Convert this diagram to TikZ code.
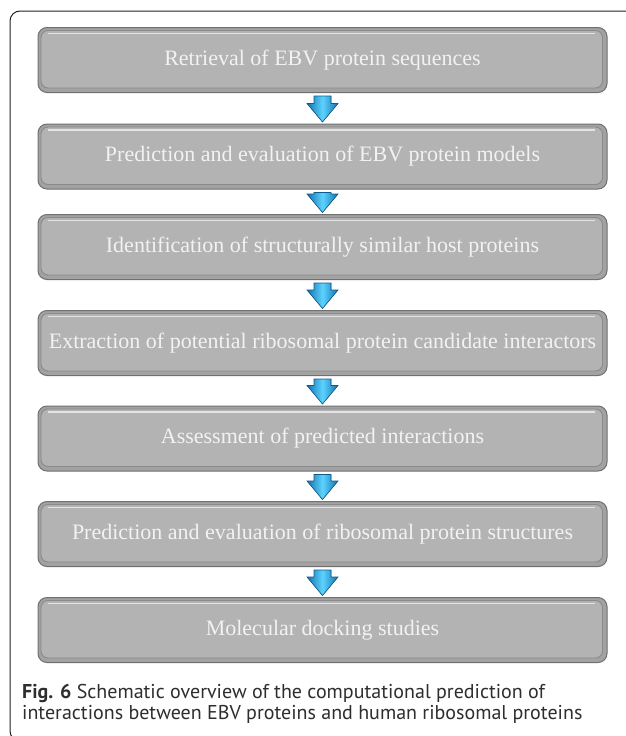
\documentclass[tikz,border=0pt]{standalone}
\usepackage{fontspec}
\setmainfont{Liberation Serif}
\newfontfamily\capfont{PT Sans}
\usetikzlibrary{calc}
\definecolor{boxedge}{HTML}{707070}
\definecolor{boxrim}{HTML}{A2A2A2}
\definecolor{boxface}{HTML}{B3B3B3}
\definecolor{bevdark}{HTML}{8A8A8A}
\definecolor{boxtext}{HTML}{F2F2F2}
\definecolor{arrdark}{HTML}{1273AE}
\definecolor{arrlight}{HTML}{5CD2FF}
\definecolor{arredge}{HTML}{0F5A88}
\definecolor{framecol}{HTML}{222222}
\definecolor{captext}{HTML}{2E2E2E}
\tikzset{
  procbox/.style={draw=boxedge, line width=1pt, fill=boxrim, rounded corners=9pt,
    minimum width=569pt, minimum height=65pt, inner sep=0pt,
    text=boxtext, font=\fontsize{22}{25}\selectfont,
    path picture={
      \draw[rounded corners=7pt, draw=bevdark, line width=0.9pt, fill=boxface]
        ([xshift=3pt,yshift=-3pt]path picture bounding box.north west) rectangle
        ([xshift=-4.5pt,yshift=4.5pt]path picture bounding box.south east);
      \draw[white!65!boxface, line width=1.4pt, rounded corners=0pt]
        ([xshift=10pt,yshift=-6pt]path picture bounding box.north west) --
        ([xshift=-12pt,yshift=-6pt]path picture bounding box.north east);
    }},
  fatarrow/.style={draw=arredge, line width=0.6pt, line join=miter,
    left color=arrdark, right color=arrdark, middle color=arrlight},
  capline/.style={anchor=base west, inner sep=0pt, text=captext,
    font=\capfont\fontsize{20}{22}\selectfont}
}
\begin{document}
\begin{tikzpicture}[x=1pt,y=-1pt]
\useasboundingbox (0,0) rectangle (625,736);
\fill[white] (0,0) rectangle (625,736);
\draw[framecol, line width=1pt, rounded corners=10pt] (640,11) -- (10,11) -- (10,741) -- (40,741);

\node[procbox] (b1) at (322.5,60)    {Retrieval of EBV protein sequences};
\node[procbox] (b2) at (322.5,156.5) {Prediction and evaluation of EBV protein models};
\node[procbox] (b3) at (322.5,247)   {Identification of structurally similar host proteins};
\node[procbox] (b4) at (322.5,343)   {Extraction of potential ribosomal protein candidate interactors};
\node[procbox] (b5) at (322.5,438.5) {Assessment of predicted interactions};
\node[procbox] (b6) at (322.5,534)   {Prediction and evaluation of ribosomal protein structures};
\node[procbox] (b7) at (322.5,630)   {Molecular docking studies};

\foreach \i/\j in {1/2,2/3,3/4,4/5,5/6,6/7}
  \filldraw[fatarrow]
    ($(b\i.south)+(-8.5,3)$) -- ($(b\i.south)+(8.5,3)$) --
    ($(b\j.north)+(8.5,-20)$) -- ($(b\j.north)+(15.5,-20)$) --
    ($(b\j.north)+(0,-1.5)$) --
    ($(b\j.north)+(-15.5,-20)$) -- ($(b\j.north)+(-8.5,-20)$) -- cycle;

\node[capline] (cap1) at (22,698) {\textbf{Fig. 6} Schematic overview of the computational prediction of};
\node[capline] (cap2) at (22,719) {interactions between EBV proteins and human ribosomal proteins};
\end{tikzpicture}
\end{document}
